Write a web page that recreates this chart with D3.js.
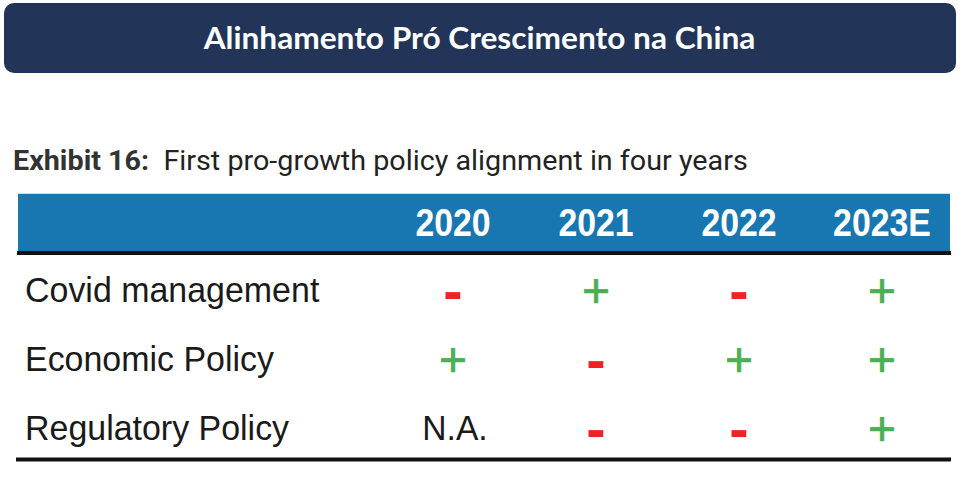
<!DOCTYPE html>
<html>
<head>
<meta charset="utf-8" />
<title>Alinhamento Pró Crescimento na China</title>
<style>
body { margin: 0; background: #fff; }
svg { display: block; }
text { white-space: pre; }
</style>
</head>
<body>
<script src="https://cdn.jsdelivr.net/npm/d3@7"></script>
<script>
// table content
var years = ["2020", "2021", "2022", "2023E"];
var policies = ["Covid management", "Economic Policy", "Regulatory Policy"];
var covidMarks = ["-", "+", "-", "+"];
var economicMarks = ["+", "-", "+", "+"];
var regulatoryMarks = ["N.A.", "-", "-", "+"];

var bannerTitle = "Alinhamento Pró Crescimento na China";
var exhibitLabel = "Exhibit 16:";
var exhibitText = "  First pro-growth policy alignment in four years";

var width = 964,
    height = 482;

var svg = d3.select("body").append("svg")
    .attr("width", width)
    .attr("height", height)
    .attr("viewBox", [0, 0, width, height].join(" "));

// squeeze a text horizontally so it spans w pixels from x (anchor start / middle)
function fit(sel, x, w, anchor) {
  var bw = sel.node().getBBox().width;
  var k = w / bw;
  var tx = anchor === "middle" ? x : x;
  sel.attr("transform", "translate(" + tx + ",0) scale(" + k + ",1)");
}

//=====================
// banner
//=====================
svg.append("rect")
    .attr("x", 4).attr("y", 3)
    .attr("width", 952).attr("height", 70)
    .attr("rx", 10)
    .style("fill", "#223457");

var title = svg.append("text")
    .attr("x", 0).attr("y", 49)
    .attr("text-anchor", "middle")
    .style("font-family", "Lato, 'Open Sans', sans-serif")
    .style("font-weight", "bold")
    .style("font-size", "31px")
    .style("fill", "#fff")
    .text(bannerTitle);
fit(title, 479.5, 553, "middle");

//=====================
// exhibit caption
//=====================
var cap = svg.append("text")
    .attr("x", 0).attr("y", 170)
    .style("font-family", "Roboto, sans-serif")
    .style("font-size", "27px");
cap.append("tspan")
    .style("font-weight", "bold")
    .style("fill", "#333")
    .text(exhibitLabel);
cap.append("tspan")
    .style("fill", "#222")
    .text(exhibitText);
fit(cap, 13, 735, "start");

//=====================
// table
//=====================
var x = d3.scaleBand()
    .domain(years)
    .range([381.5, 953.5]);

var y = d3.scalePoint()
    .domain(policies)
    .range([290, 428]);

var rows = policies.map(function(p, i) {
  return { name: p, marks: [covidMarks, economicMarks, regulatoryMarks][i] };
});

// header band
svg.append("rect")
    .attr("x", 18).attr("y", 194)
    .attr("width", 932).attr("height", 59)
    .style("fill", "#1877b0");
svg.append("line")
    .attr("x1", 18).attr("x2", 950)
    .attr("y1", 193.5).attr("y2", 193.5)
    .style("stroke", "#cde2ef")
    .style("stroke-width", "1px");
svg.append("line")
    .attr("x1", 17).attr("x2", 951)
    .attr("y1", 253).attr("y2", 253)
    .style("stroke", "#111")
    .style("stroke-width", "4px");

svg.selectAll(".year")
    .data(years)
    .enter()
    .append("text")
    .attr("class", "year")
    .attr("x", 0).attr("y", 236)
    .attr("text-anchor", "middle")
    .style("font-family", "'Liberation Sans', Arial, sans-serif")
    .style("font-weight", "bold")
    .style("font-size", "38px")
    .style("fill", "#fff")
    .text(function(d) { return d; })
    .each(function(d) {
      var t = d3.select(this);
      fit(t, x(d) + x.bandwidth() / 2, this.getBBox().width * 0.89, "middle");
    });

// row labels
svg.selectAll(".policy")
    .data(policies)
    .enter()
    .append("text")
    .attr("class", "policy")
    .attr("x", 0)
    .attr("y", function(d) { return y(d) + 12.5; })
    .style("font-family", "'Liberation Sans', Arial, sans-serif")
    .style("font-size", "35px")
    .style("fill", "#1a1a1a")
    .text(function(d) { return d; })
    .each(function() {
      fit(d3.select(this), 25, this.getBBox().width * 0.97, "start");
    });

// cells
var cells = [];
rows.forEach(function(r) {
  r.marks.forEach(function(m, j) {
    cells.push({ row: r.name, year: years[j], mark: m });
  });
});

var cell = svg.selectAll(".cell")
    .data(cells)
    .enter()
    .append("text")
    .attr("class", "cell")
    .attr("x", 0)
    .attr("text-anchor", "middle")
    .style("font-family", "'Liberation Sans', Arial, sans-serif")
    .text(function(d) { return d.mark; });

cell.filter(function(d) { return d.mark === "+"; })
    .attr("y", function(d) { return y(d.row) + 17; })
    .style("font-size", "48px")
    .style("fill", "#4cae55")
    .style("stroke", "#4cae55")
    .style("stroke-width", "0.7px");

cell.filter(function(d) { return d.mark === "-"; })
    .attr("y", function(d) { return y(d.row) + 20.5; })
    .style("font-size", "58px")
    .style("font-weight", "bold")
    .style("fill", "#ec2424");

cell.filter(function(d) { return d.mark === "N.A."; })
    .attr("y", function(d) { return y(d.row) + 12.5; })
    .style("font-size", "35px")
    .style("fill", "#1a1a1a");

cell.each(function(d) {
  var k = d.mark === "N.A." ? 0.96 : 1;
  fit(d3.select(this), x(d.year) + x.bandwidth() / 2 + (d.mark === "N.A." ? 2 : 0), this.getBBox().width * k, "middle");
});

// bottom rule
svg.append("line")
    .attr("x1", 16).attr("x2", 951)
    .attr("y1", 459.5).attr("y2", 459.5)
    .style("stroke", "#111")
    .style("stroke-width", "4px");
</script>
</body>
</html>
